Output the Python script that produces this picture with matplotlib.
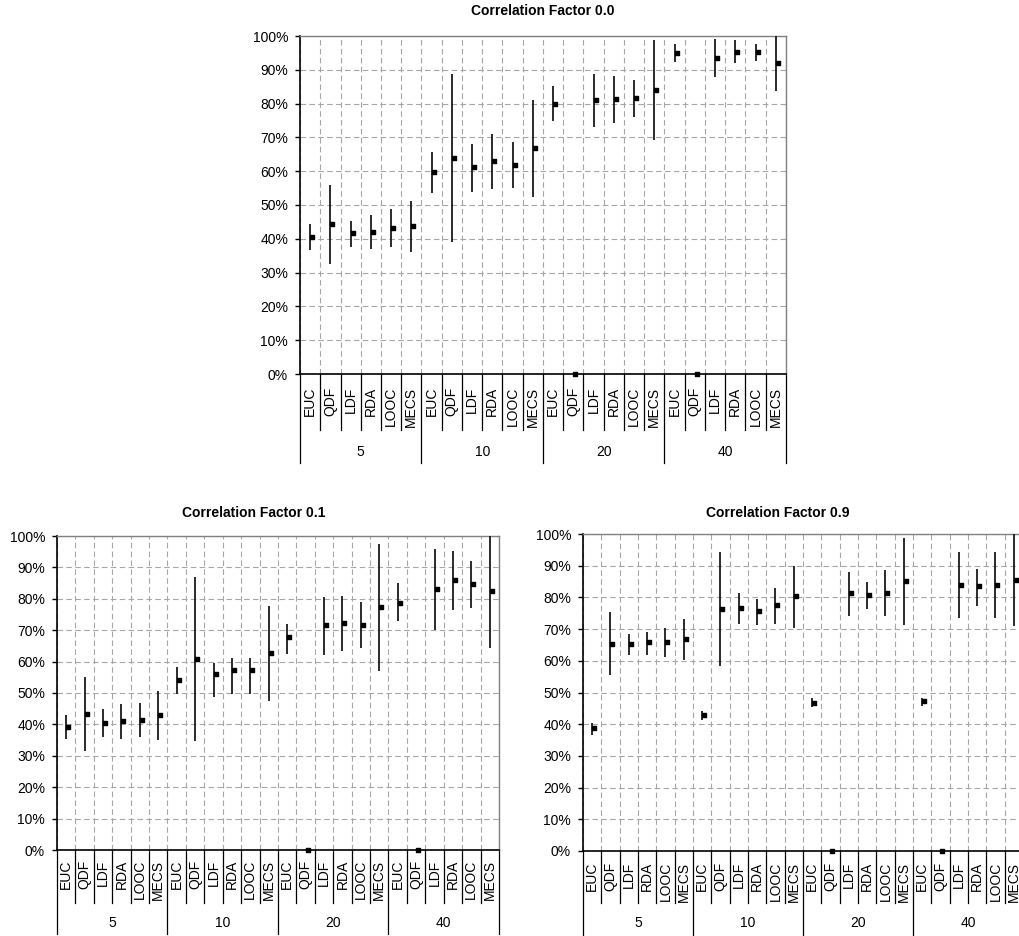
import matplotlib
matplotlib.use("Agg")
import matplotlib.pyplot as plt
from matplotlib.path import Path
from matplotlib.ticker import PercentFormatter, MultipleLocator

plt.rcParams['font.family'] = ['Liberation Sans', 'DejaVu Sans']

# Classifier names and training sample sizes (category axis, two levels)
methods = ['EUC', 'QDF', 'LDF', 'RDA', 'LOOC', 'MECS']
sizes = ['5', '10', '20', '40']

# Correlation factor 0.0: mean accuracy and low/high range (%), 24 cells
cf00_mean = [40.5, 44.4, 41.7, 42.0, 43.1, 43.7, 59.7, 64.0, 61.2, 63.0, 61.9, 66.9,
             80.0, 0.0, 81.0, 81.4, 81.7, 83.9, 95.0, 0.0, 93.5, 95.3, 95.3, 92.0]
cf00_low = [36.6, 32.5, 37.5, 37.1, 37.5, 36.2, 53.5, 39.0, 53.9, 54.6, 55.0, 52.5,
            74.9, 0.0, 73.0, 74.4, 75.9, 69.3, 92.3, 0.0, 88.0, 91.9, 92.7, 83.8]
cf00_high = [44.4, 55.8, 45.4, 47.0, 48.7, 51.2, 65.7, 88.8, 67.9, 71.1, 68.6, 81.1,
             85.3, 0.0, 88.8, 88.2, 87.1, 98.8, 97.6, 0.0, 99.1, 98.8, 97.6, 100.0]

# Correlation factor 0.1
cf01_mean = [39.3, 43.3, 40.4, 41.1, 41.5, 43.0, 54.0, 60.9, 55.9, 57.2, 57.2, 62.7,
             67.8, 0.0, 71.6, 72.3, 71.6, 77.3, 78.8, 0.0, 83.1, 86.0, 84.6, 82.4]
cf01_low = [35.3, 31.4, 36.0, 35.3, 36.0, 34.9, 49.8, 34.6, 48.7, 49.8, 49.8, 47.3,
            62.3, 0.0, 62.0, 63.4, 64.4, 57.1, 72.9, 0.0, 70.0, 76.4, 77.1, 64.4]
cf01_high = [42.9, 55.1, 45.0, 46.5, 46.9, 50.7, 58.3, 87.0, 59.7, 61.1, 61.1, 77.7,
             72.1, 0.0, 80.6, 80.9, 79.0, 97.4, 84.9, 0.0, 96.0, 95.3, 92.0, 100.0]

# Correlation factor 0.9
cf09_mean = [38.7, 65.4, 65.4, 65.9, 65.9, 66.8, 43.0, 76.4, 76.8, 75.6, 77.5, 80.4,
             46.8, 0.0, 81.3, 80.7, 81.3, 85.2, 47.2, 0.0, 83.8, 83.5, 83.8, 85.5]
cf09_low = [36.7, 55.4, 61.8, 61.8, 61.3, 60.3, 41.4, 58.5, 71.6, 71.3, 71.6, 70.3,
            45.3, 0.0, 74.2, 76.3, 74.2, 71.3, 45.6, 0.0, 73.4, 77.4, 73.4, 71.1]
cf09_high = [40.5, 75.5, 68.6, 69.2, 70.3, 73.1, 44.3, 94.2, 81.3, 79.5, 83.1, 90.0,
             48.4, 0.0, 87.9, 84.8, 88.7, 98.8, 48.2, 0.0, 94.2, 89.0, 94.2, 100.0]

FIG_W, FIG_H = 1020, 936
fig = plt.figure(figsize=(FIG_W / 100, FIG_H / 100), dpi=100)

# small filled bar that sits just to the right of each range line
MEAN_MARK = Path([(0, -0.4), (1, -0.4), (1, 0.4), (0, 0.4), (0, -0.4)],
                 [Path.MOVETO, Path.LINETO, Path.LINETO, Path.LINETO, Path.CLOSEPOLY])

GRID_KW = dict(color='#a6a6a6', lw=0.8, ls=(0, (5, 3)))


def add_axes_px(left, top, right, bottom):
    return fig.add_axes([left / FIG_W, 1 - bottom / FIG_H,
                         (right - left) / FIG_W, (bottom - top) / FIG_H])


def draw_panel(ax, mean, low, high, label_gap, sep_len, group_len, group_y):
    n = len(methods) * len(sizes)
    xs = [i + 0.5 for i in range(n)]

    ax.set_xlim(0, n)
    ax.set_ylim(0, 100)
    ax.yaxis.set_major_locator(MultipleLocator(10))
    ax.yaxis.set_major_formatter(PercentFormatter(100, decimals=0))
    ax.set_xticks(range(n + 1))
    ax.set_xticklabels([])
    ax.tick_params(axis='x', length=0)
    ax.tick_params(axis='y', length=3.6, width=1, pad=5, labelsize=10, colors='black')
    ax.grid(True, **GRID_KW)
    ax.set_axisbelow(True)

    for side in ('left', 'bottom'):
        ax.spines[side].set_color('black')
        ax.spines[side].set_linewidth(1.2)
    for side in ('top', 'right'):
        ax.spines[side].set_color('#808080')
        ax.spines[side].set_linewidth(1.0)

    ax.vlines(xs, low, high, color='#1a1a1a', lw=1.3, zorder=3, clip_on=False)
    ax.plot(xs, mean, ls='none', marker=MEAN_MARK, ms=6, color='black',
            zorder=4, clip_on=False)

    # two-level category axis: method names, then sample size groups
    ax_h = ax.get_position().height * FIG_H
    trans = ax.get_xaxis_transform()
    for i in range(n + 1):
        length = group_len if i % len(methods) == 0 else sep_len
        ax.plot([i, i], [0, -length / ax_h], transform=trans, color='black',
                lw=0.9, clip_on=False)
    for i, x in enumerate(xs):
        ax.text(x, -label_gap / ax_h, methods[i % len(methods)], transform=trans,
                rotation=90, ha='center', va='top', fontsize=10)
    for g, size in enumerate(sizes):
        ax.text(g * len(methods) + len(methods) / 2, -group_y / ax_h, size,
                transform=trans, ha='center', va='center', fontsize=10)


ax_top = add_axes_px(300, 36, 786, 374)
draw_panel(ax_top, cf00_mean, cf00_low, cf00_high, 13, 56, 89, 78)
fig.text(543 / FIG_W, 1 - 11 / FIG_H, 'Correlation Factor 0.0',
         ha='center', va='center', fontsize=10, weight='bold')

ax_left = add_axes_px(57, 536, 499, 850)
draw_panel(ax_left, cf01_mean, cf01_low, cf01_high, 10, 53, 84, 73)
fig.text(254 / FIG_W, 1 - 513 / FIG_H, 'Correlation Factor 0.1',
         ha='center', va='center', fontsize=10, weight='bold')

ax_right = add_axes_px(583, 534, 1023, 851)
draw_panel(ax_right, cf09_mean, cf09_low, cf09_high, 11, 52, 84, 72)
fig.text(778 / FIG_W, 1 - 513 / FIG_H, 'Correlation Factor 0.9',
         ha='center', va='center', fontsize=10, weight='bold')

fig.savefig('out.png', dpi=100)
